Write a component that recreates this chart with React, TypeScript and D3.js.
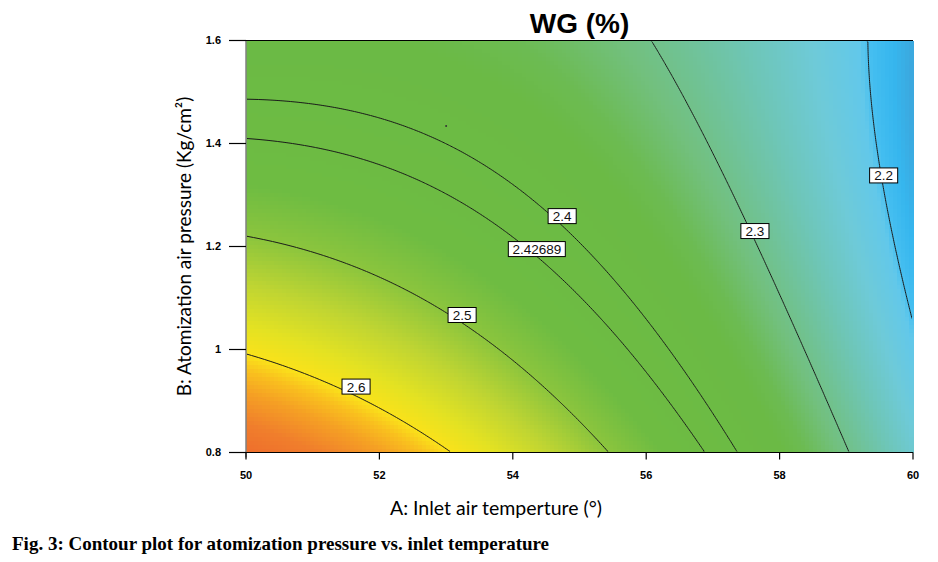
import * as d3 from "d3";
import { useMemo } from "react";

// Response surface for WG (%), coded units: a = (A - 55) / 5, b = (B - 1.2) / 0.4
// coefficients estimated from the contour positions in the figure
const modelTerms = ["Intercept", "A", "B", "AB", "A^2", "B^2"];
const modelCoefficients = [2.4019, -0.1614, -0.0988, 0.0668, -0.055, 0.0198];

const tempRange = [50, 60];
const pressureRange = [0.8, 1.6];
const xTicks = [50, 52, 54, 56, 58, 60];
const yTicks = [0.8, 1, 1.2, 1.4, 1.6];

const contourLevels = [2.2, 2.3, 2.4, 2.42689, 2.5, 2.6];
const contourLabels = ["2.2", "2.3", "2.4", "2.42689", "2.5", "2.6"];
const labelTemps = [59.56, 57.63, 54.74, 54.36, 53.24, 51.65];
const labelPressures = [1.338, 1.23, 1.259, 1.195, 1.067, 0.928];

// stray design point mark
const pointTemps = [53.0];
const pointPressures = [1.434];

const colorValues = [2.172, 2.185, 2.198, 2.205, 2.23, 2.26, 2.29, 2.31, 2.34, 2.36, 2.46, 2.5, 2.54, 2.575, 2.6, 2.615, 2.635, 2.665, 2.7];
const colorStops = ["#3ca6dc", "#36b6ee", "#44bef0", "#62c8ea", "#6ecad8", "#6ec6b8", "#70c294", "#72c07e", "#6cbb52", "#6bba45",
  "#6ebc42", "#8cc53d", "#c0d532", "#e4e222", "#fae21a", "#f9c01e", "#f5a024", "#f07e2c", "#ee6a2c"];

const predict = (A: number, B: number) => {
  const a = (A - (tempRange[0] + tempRange[1]) / 2) / ((tempRange[1] - tempRange[0]) / 2);
  const b = (B - (pressureRange[0] + pressureRange[1]) / 2) / ((pressureRange[1] - pressureRange[0]) / 2);
  const [c0, c1, c2, c3, c4, c5] = modelCoefficients;
  return c0 + c1 * a + c2 * b + c3 * a * b + c4 * a * a + c5 * b * b;
};

const W = 938, H = 562;
const left = 246, right = 913, top = 40.5, bottom = 452.5;

const App = () => {
  const x = d3.scaleLinear().domain(tempRange).range([left, right]);
  const y = d3.scaleLinear().domain(pressureRange).range([bottom, top]);
  const color = d3.scaleLinear<string>().domain(colorValues).range(colorStops).interpolate(d3.interpolateRgb).clamp(true);

  // heat map cells
  const cells = useMemo(() => {
    const nx = 167, ny = 103;
    const out: any[] = [];
    for (let j = 0; j < ny; j++) {
      const B0 = pressureRange[0] + (j / ny) * (pressureRange[1] - pressureRange[0]);
      const B1 = pressureRange[0] + ((j + 1) / ny) * (pressureRange[1] - pressureRange[0]);
      for (let i = 0; i < nx; i++) {
        const A0 = tempRange[0] + (i / nx) * (tempRange[1] - tempRange[0]);
        const A1 = tempRange[0] + ((i + 1) / nx) * (tempRange[1] - tempRange[0]);
        out.push({ A0, A1, B0, B1, v: predict((A0 + A1) / 2, (B0 + B1) / 2) });
      }
    }
    return out;
  }, []);

  // contour lines
  const contourPaths = useMemo(() => {
    const gx = 334, gy = 206;
    const values = new Array(gx * gy);
    for (let j = 0; j < gy; j++) {
      const B = pressureRange[1] - ((j + 0.5) / gy) * (pressureRange[1] - pressureRange[0]);
      for (let i = 0; i < gx; i++) {
        const A = tempRange[0] + ((i + 0.5) / gx) * (tempRange[1] - tempRange[0]);
        values[i + j * gx] = predict(A, B);
      }
    }
    const gxs = d3.scaleLinear().domain([0, gx]).range([left, right]);
    const gys = d3.scaleLinear().domain([0, gy]).range([top, bottom]);
    const proj = d3.geoTransform({
      point: function (this: any, px: number, py: number) {
        this.stream.point(gxs(px), gys(py));
      },
    });
    const path = d3.geoPath(proj);
    return d3.contours().size([gx, gy]).thresholds(contourLevels)(values).map((c) => path(c as any));
  }, []);

  const labelWidth = (s: string) =>
    s.split("").reduce((w, ch) => w + (ch === "." ? 0.278 : 0.556), 0) * 13 + 10;

  return (
    <svg width={W} height={H} style={{ position: "absolute", left: 0, top: 0, background: "#fff" }}>
      <defs>
        <clipPath id="inner">
          <rect x={left + 1} y={top + 1} width={right - left - 2} height={bottom - top - 2} />
        </clipPath>
      </defs>

      <g shapeRendering="crispEdges">
        {cells.map((c, k) => (
          <rect key={k} x={x(c.A0)} y={y(c.B1)} width={x(c.A1) - x(c.A0) + 0.6}
            height={y(c.B0) - y(c.B1) + 0.6} fill={color(c.v)} />
        ))}
      </g>

      <g clipPath="url(#inner)">
        {contourPaths.map((d, k) => (
          <path key={k} d={d || ""} fill="none" stroke="#1a1a1a" strokeWidth={1} />
        ))}
      </g>

      {pointTemps.map((t, k) => (
        <circle key={k} cx={x(t)} cy={y(pointPressures[k])} r={1} fill="#333" />
      ))}

      {contourLabels.map((s, k) => {
        const w = labelWidth(s);
        const cx = x(labelTemps[k]), cy = y(labelPressures[k]);
        return (
          <g key={s}>
            <rect x={cx - w / 2} y={cy - 7.5} width={w} height={15} fill="#fff" stroke="#000" strokeWidth={1} />
            <text x={cx} y={cy} dy="0.37em" textAnchor="middle" fontFamily="Liberation Sans, Arial, sans-serif"
              fontSize={13.5} fill="#111">{s}</text>
          </g>
        );
      })}

      {/* frame */}
      <line x1={left} x2={left} y1={top} y2={bottom + 5} stroke="#808080" strokeWidth={1.5} />
      <line x1={left - 17} x2={right} y1={top} y2={top} stroke="#000" strokeWidth={1.2} />
      <line x1={left} x2={right} y1={bottom} y2={bottom} stroke="#000" strokeWidth={1.2} />

      {/* y axis */}
      {yTicks.map((t) => (
        <g key={t}>
          <line x1={left - 17} x2={left} y1={y(t)} y2={y(t)} stroke="#000" strokeWidth={1.2} />
          <text x={221} y={y(t)} dy="0.36em" textAnchor="end" fontFamily="Liberation Sans, Arial, sans-serif"
            fontWeight="bold" fontSize={11}>{t === 1 ? "1" : d3.format(".1f")(t)}</text>
        </g>
      ))}

      {/* x axis */}
      {xTicks.map((t) => (
        <g key={t}>
          <line x1={x(t)} x2={x(t)} y1={bottom} y2={bottom + 7} stroke="#000" strokeWidth={1.2} />
          <text x={x(t)} y={479} textAnchor="middle" fontFamily="Liberation Sans, Arial, sans-serif"
            fontWeight="bold" fontSize={11}>{t}</text>
        </g>
      ))}

      <text x={(left + right) / 2} y={33} textAnchor="middle" fontFamily="Liberation Sans, Arial, sans-serif"
        fontWeight="bold" fontSize={28}>WG (%)</text>

      <text x={496} y={515} textAnchor="middle" fontFamily="Lato, sans-serif" fontSize={19.5}>
        A: Inlet air temperture (°)
      </text>

      <text transform={`translate(184, ${(top + bottom) / 2}) rotate(-90)`} dy="0.36em" textAnchor="middle"
        fontFamily="Lato, sans-serif" fontSize={19}>
        B: Atomization air pressure (Kg/cm²)
      </text>

      <text x={12} y={550} fontFamily="Liberation Serif, Times New Roman, serif" fontWeight="bold" fontSize={19}>
        Fig. 3: Contour plot for atomization pressure vs. inlet temperature
      </text>
    </svg>
  );
};

export default App;
